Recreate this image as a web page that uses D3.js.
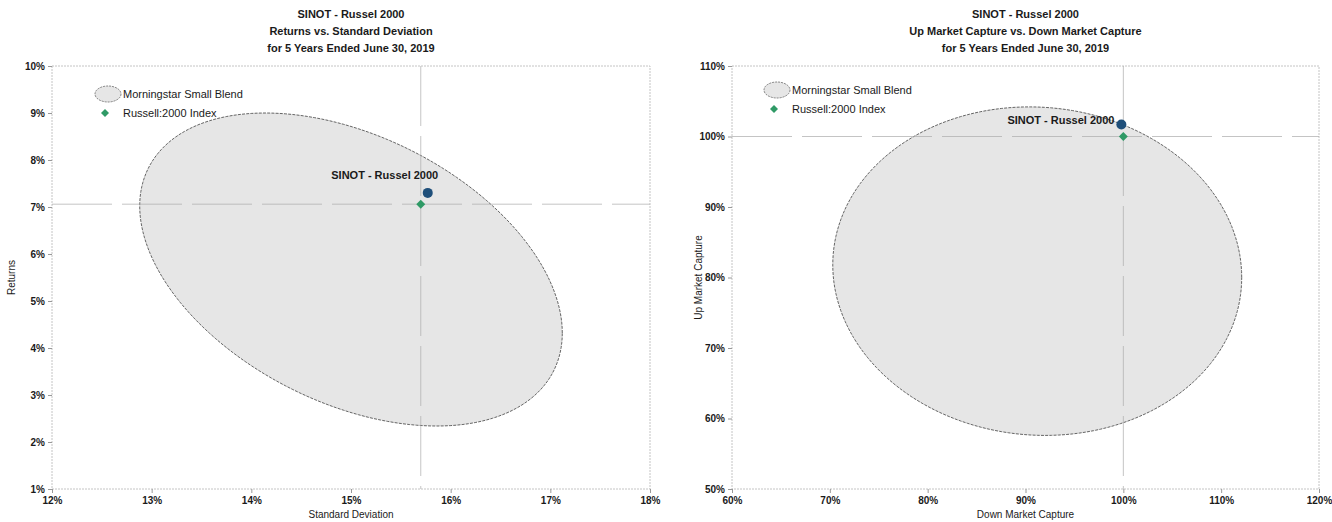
<!DOCTYPE html>
<html><head><meta charset="utf-8">
<script src="https://cdn.jsdelivr.net/npm/d3@7"></script>
<style>
body{margin:0;background:#fff;}
text{font-family:"Liberation Sans",Arial,sans-serif;fill:#1a1a1a;}
</style></head>
<body><svg id="c" width="1332" height="522"></svg>
<script>
// ---------- DATA ----------
const fundName = "SINOT - Russel 2000";
const peerName = "Morningstar Small Blend";
const indexName = "Russell:2000 Index";

const leftTitles = ["SINOT - Russel 2000", "Returns vs. Standard Deviation", "for 5 Years Ended June 30, 2019"];
const leftXTicks = [12, 13, 14, 15, 16, 17, 18];
const leftYTicks = [1, 2, 3, 4, 5, 6, 7, 8, 9, 10];
const leftFund = [15.77, 7.30];     // [std dev, return]
const leftIndex = [15.70, 7.06];
// peer ellipse: center x, center y, half-width (x), half-height (y), x offset of topmost point
const leftPeer = [15.0, 5.67, 2.12, 3.33, -0.86];

const rightTitles = ["SINOT - Russel 2000", "Up Market Capture vs. Down Market Capture", "for 5 Years Ended June 30, 2019"];
const rightXTicks = [60, 70, 80, 90, 100, 110, 120];
const rightYTicks = [50, 60, 70, 80, 90, 100, 110];
const rightFund = [99.8, 101.7];   // [down capture, up capture]
const rightIndex = [100.0, 100.0];
const rightPeer = [91.2, 80.9, 20.9, 23.3, -0.8];

// ---------- DRAW ----------
const svg = d3.select("#c");
const diamond = d3.symbol(d3.symbolSquare, 40)();

function panel(cfg){
  const g = svg.append("g");
  const x = d3.scaleLinear().domain(cfg.xDomain).range([cfg.left, cfg.right]);
  const y = d3.scaleLinear().domain(cfg.yDomain).range([cfg.bottom, cfg.top]);
  const cxm = (cfg.left + cfg.right) / 2;

  // titles
  g.selectAll("text.title").data(cfg.titles).join("text")
    .attr("x", cxm).attr("y", (d, i) => 18 + i * 17)
    .attr("text-anchor", "middle").attr("font-size", 11).attr("font-weight", "bold")
    .text(d => d);

  // frame
  g.append("rect").attr("x", cfg.left).attr("y", cfg.top)
    .attr("width", cfg.right - cfg.left).attr("height", cfg.bottom - cfg.top)
    .attr("fill", "none").attr("stroke", "#c4c4c4").attr("stroke-width", 1)
    .attr("stroke-dasharray", "2,1");

  // peer ellipse
  const [pcx, pcy, pw, ph, ptop] = cfg.peer;
  const cov = ptop * ph;            // (data units, y up) top point offset = cov/ph
  const l21 = cov / pw;
  const l22 = Math.sqrt(ph * ph - l21 * l21);
  const pts = d3.range(0, 2 * Math.PI, Math.PI / 90).map(t =>
    [x(pcx + pw * Math.cos(t)), y(pcy + l21 * Math.cos(t) + l22 * Math.sin(t))]);
  g.append("path").attr("d", d3.line().curve(d3.curveLinearClosed)(pts))
    .attr("fill", "#e6e6e6").attr("stroke", "#555").attr("stroke-width", 0.9)
    .attr("stroke-dasharray", "3,1.2");

  // crosshair on index
  g.append("line").attr("x1", x(cfg.index[0])).attr("x2", x(cfg.index[0]))
    .attr("y1", cfg.top).attr("y2", cfg.bottom)
    .attr("stroke", "#aaa").attr("stroke-width", 0.7).attr("stroke-dasharray", "60,10");
  g.append("line").attr("y1", y(cfg.index[1])).attr("y2", y(cfg.index[1]))
    .attr("x1", cfg.left).attr("x2", cfg.right)
    .attr("stroke", "#aaa").attr("stroke-width", 0.7).attr("stroke-dasharray", "60,10");

  // axes
  const fmt = d => d + "%";
  const xa = g.append("g").attr("transform", `translate(0,${cfg.bottom})`)
    .call(d3.axisBottom(x).tickValues(cfg.xTicks).tickFormat(fmt).tickSize(4).tickPadding(4));
  const ya = g.append("g").attr("transform", `translate(${cfg.left},0)`)
    .call(d3.axisLeft(y).tickValues(cfg.yTicks).tickFormat(fmt).tickSize(4).tickPadding(3));
  [xa, ya].forEach(a => {
    a.select(".domain").remove();
    a.selectAll(".tick line").attr("stroke", "#999");
    a.selectAll(".tick text").attr("font-size", 10).attr("font-family", '"Liberation Sans",Arial,sans-serif')
      .attr("fill", "#1a1a1a").attr("font-weight", "bold");
  });

  // axis titles
  g.append("text").attr("x", cxm).attr("y", 518).attr("text-anchor", "middle")
    .attr("font-size", 10).text(cfg.xTitle);
  g.append("text").attr("transform", `translate(${cfg.yTitleX},${(cfg.top + cfg.bottom) / 2}) rotate(-90)`)
    .attr("text-anchor", "middle").attr("font-size", 10).text(cfg.yTitle);

  // index diamond
  g.append("path").attr("d", diamond)
    .attr("transform", `translate(${x(cfg.index[0])},${y(cfg.index[1])}) rotate(45)`)
    .attr("fill", "#2f9a66");
  // fund dot
  g.append("circle").attr("cx", x(cfg.fund[0])).attr("cy", y(cfg.fund[1])).attr("r", 5)
    .attr("fill", "#1f4f7a");
  g.append("text").attr("x", x(cfg.fund[0]) + cfg.labelDx).attr("y", y(cfg.fund[1]) + cfg.labelDy)
    .attr("text-anchor", cfg.labelAnchor).attr("font-size", 11).attr("font-weight", "bold")
    .text(fundName);

  // legend
  const lx = cfg.left + cfg.legendDx, ly = cfg.top + cfg.legendDy;
  g.append("ellipse").attr("cx", lx).attr("cy", ly).attr("rx", 13).attr("ry", 8)
    .attr("fill", "#e6e6e6").attr("stroke", "#666").attr("stroke-width", 0.8).attr("stroke-dasharray", "2,1");
  g.append("text").attr("x", lx + 15).attr("y", ly + 4).attr("font-size", 11).text(peerName);
  g.append("path").attr("d", d3.symbol(d3.symbolSquare, 32)())
    .attr("transform", `translate(${lx - 3},${ly + 19}) rotate(45)`).attr("fill", "#2f9a66");
  g.append("text").attr("x", lx + 15).attr("y", ly + 23).attr("font-size", 11).text(indexName);
}

panel({
  left: 52, right: 650, top: 66, bottom: 489,
  xDomain: [12, 18], yDomain: [1, 10],
  xTicks: leftXTicks, yTicks: leftYTicks,
  titles: leftTitles, peer: leftPeer, fund: leftFund, index: leftIndex,
  xTitle: "Standard Deviation", yTitle: "Returns", yTitleX: 15,
  labelDx: -43, labelDy: -14, labelAnchor: "middle",
  legendDx: 56, legendDy: 28
});
panel({
  left: 732, right: 1319, top: 66, bottom: 489,
  xDomain: [60, 120], yDomain: [50, 110],
  xTicks: rightXTicks, yTicks: rightYTicks,
  titles: rightTitles, peer: rightPeer, fund: rightFund, index: rightIndex,
  xTitle: "Down Market Capture", yTitle: "Up Market Capture", yTitleX: 702,
  labelDx: -7, labelDy: -1, labelAnchor: "end",
  legendDx: 45, legendDy: 24
});
</script></body></html>
